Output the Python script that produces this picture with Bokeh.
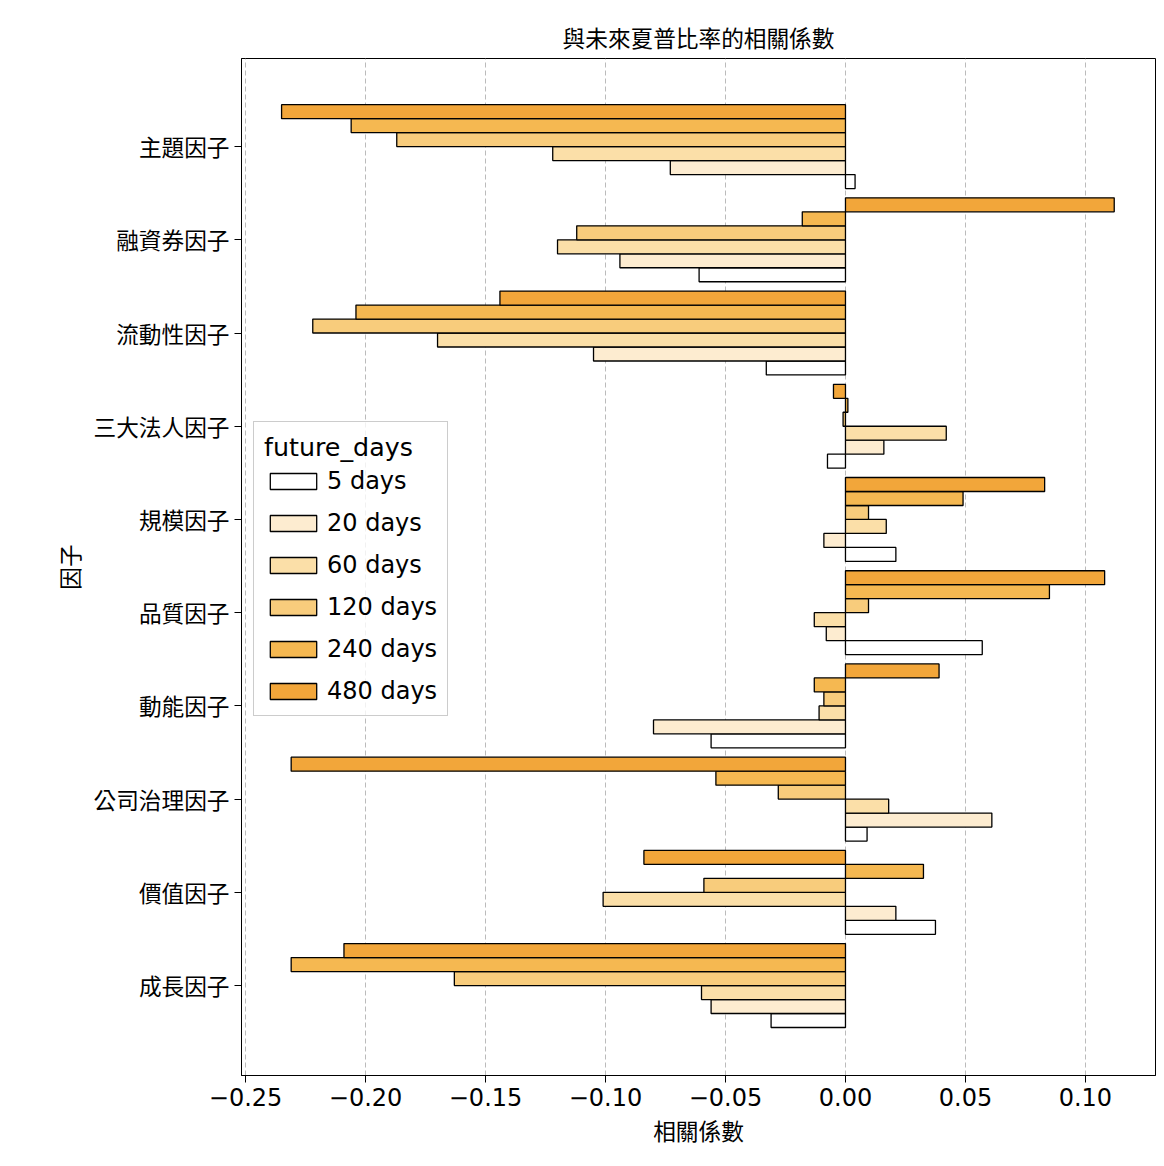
from bokeh.plotting import figure
from bokeh.models import Legend, LegendItem, FixedTicker, ColumnDataSource
from bokeh.embed import file_html
from bokeh.resources import INLINE

factors = ["主題因子", "融資券因子", "流動性因子", "三大法人因子", "規模因子",
           "品質因子", "動能因子", "公司治理因子", "價值因子", "成長因子"]
labels = ["5 days", "20 days", "60 days", "120 days", "240 days", "480 days"]
colors = ["#ffffff", "#fdecd0", "#fbdfa8", "#f8cc7c", "#f5b851", "#f2a63a"]

d5 = [0.004, -0.061, -0.033, -0.0075, 0.021, 0.057, -0.056, 0.009, 0.0375, -0.031]
d20 = [-0.073, -0.094, -0.105, 0.016, -0.009, -0.008, -0.080, 0.061, 0.021, -0.056]
d60 = [-0.122, -0.120, -0.170, 0.042, 0.017, -0.013, -0.011, 0.018, -0.101, -0.060]
d120 = [-0.187, -0.112, -0.222, -0.001, 0.0096, 0.0096, -0.009, -0.028, -0.059, -0.163]
d240 = [-0.206, -0.018, -0.204, 0.001, 0.049, 0.085, -0.013, -0.054, 0.0325, -0.231]
d480 = [-0.235, 0.112, -0.144, -0.005, 0.083, 0.108, 0.039, -0.231, -0.084, -0.209]
series = [d5, d20, d60, d120, d240, d480]

cjk = "Noto Sans CJK TC"
pos = list(range(len(factors) - 1, -1, -1))

p = figure(width=1156, height=1156, output_backend="svg", toolbar_location=None,
           x_range=(-0.2517, 0.1292), y_range=(-0.965, 9.945),
           min_border_left=241, min_border_right=1, min_border_top=58, min_border_bottom=81,
           title="與未來夏普比率的相關係數")
p.title.align = "center"
p.title.text_font = cjk
p.title.text_font_size = "17pt"
p.title.text_font_style = "normal"
p.title.text_color = "black"

items = []
for i, vals in enumerate(series):
    ys = [c + (i - 2.5) * 0.15 for c in pos]
    src = ColumnDataSource(dict(y=ys, right=vals))
    r = p.hbar(y="y", right="right", left=0, height=0.15, source=src,
               fill_color=colors[i], line_color="black", line_width=1.3)
    items.append(LegendItem(label=labels[i], renderers=[r]))

legend = Legend(items=items, location=(12, 359), title="future_days")
legend.title_text_font = "DejaVu Sans"
legend.title_text_font_size = "19pt"
legend.title_text_font_style = "normal"
legend.title_text_color = "black"
legend.label_text_font = "DejaVu Sans"
legend.label_text_font_size = "18pt"
legend.label_text_color = "black"
legend.glyph_width = 58
legend.glyph_height = 20
legend.spacing = 14
legend.border_line_color = "#cccccc"
legend.border_line_alpha = 1
legend.background_fill_alpha = 0.8
p.add_layout(legend, "center")

p.yaxis.ticker = FixedTicker(ticks=pos)
p.yaxis.major_label_overrides = {c: f for c, f in zip(pos, factors)}
p.yaxis.major_label_text_font = cjk
p.yaxis.major_label_text_font_size = "17pt"
p.yaxis.axis_label = "因子"
p.yaxis.axis_label_text_font = cjk
p.yaxis.axis_label_text_font_size = "17pt"
p.yaxis.axis_label_text_font_style = "normal"
p.yaxis.minor_tick_line_color = None

p.xaxis.ticker = FixedTicker(ticks=[-0.25, -0.2, -0.15, -0.1, -0.05, 0.0, 0.05, 0.1])
p.xaxis.major_label_overrides = {-0.25: "−0.25", -0.2: "−0.20", -0.15: "−0.15", -0.1: "−0.10",
                                 -0.05: "−0.05", 0.0: "0.00", 0.05: "0.05", 0.1: "0.10"}
p.xaxis.major_label_text_font = "DejaVu Sans"
p.xaxis.major_label_text_font_size = "18pt"
p.xaxis.axis_label = "相關係數"
p.xaxis.axis_label_text_font = cjk
p.xaxis.axis_label_text_font_size = "17pt"
p.xaxis.axis_label_text_font_style = "normal"
p.xaxis.minor_tick_line_color = None

for ax in (p.xaxis, p.yaxis):
    ax.major_tick_out = 7
    ax.major_tick_in = 0
    ax.major_label_text_color = "black"
    ax.axis_label_text_color = "black"
    ax.axis_line_color = "black"

p.ygrid.grid_line_color = None
p.xgrid.grid_line_color = "#bbbbbb"
p.xgrid.grid_line_dash = "5 3"
p.outline_line_color = "black"

open("out.html", "w").write(file_html(p, INLINE))
